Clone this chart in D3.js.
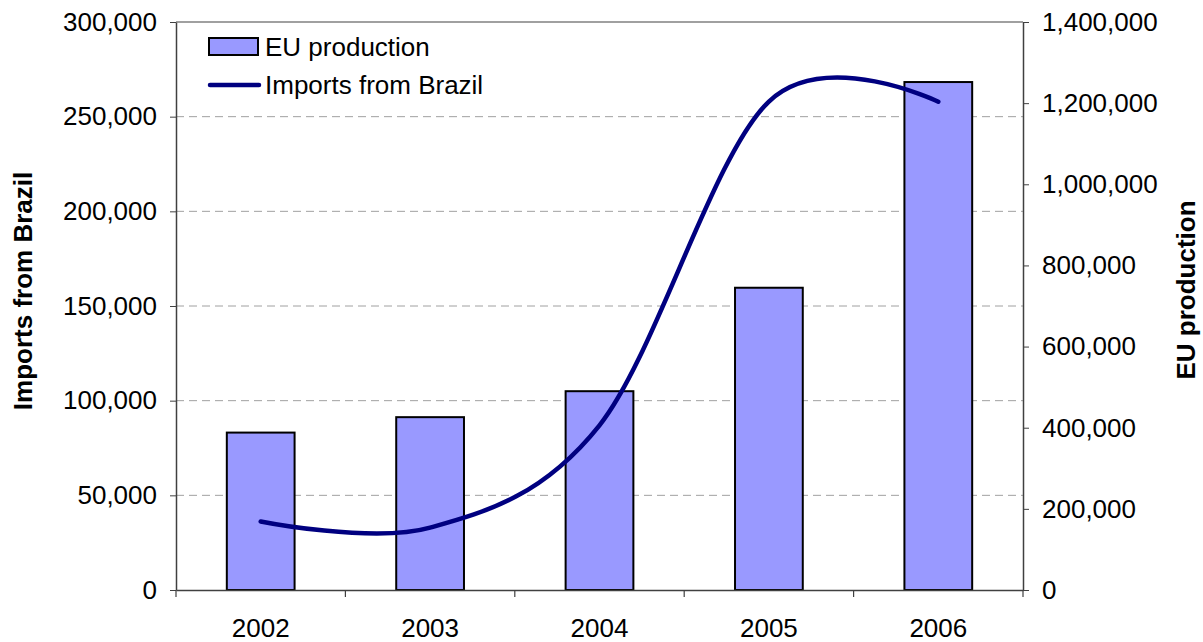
<!DOCTYPE html>
<html>
<head>
<meta charset="utf-8">
<script src="https://cdn.jsdelivr.net/npm/d3@7/dist/d3.min.js"></script>
<style>
  body { margin: 0; background: #fff; }
  svg { font-family: "Liberation Sans", Arial, sans-serif; }
  .tick text { font-size: 26px; fill: #000; }
  .title { font-size: 26px; font-weight: bold; }
  .legend text { font-size: 26px; }
</style>
</head>
<body>
<div id="chart"></div>
<script>
  const years = ["2002", "2003", "2004", "2005", "2006"];
  const euProduction = [388000, 426000, 490000, 745000, 1252000];
  const importsBrazil = [36200, 32900, 87000, 258000, 257900];
  const leftTicks = [0, 50000, 100000, 150000, 200000, 250000, 300000];
  const rightTicks = [0, 200000, 400000, 600000, 800000, 1000000, 1200000, 1400000];

  const width = 1203, height = 642;
  const margin = {top: 22, right: 180, bottom: 52, left: 176};
  const innerW = width - margin.left - margin.right;
  const innerH = height - margin.top - margin.bottom;

  const svg = d3.select("#chart").append("svg")
    .attr("width", width)
    .attr("height", height);

  const g = svg.append("g")
    .attr("transform", "translate(" + margin.left + "," + margin.top + ")");

  const x = d3.scaleBand().domain(years).range([0, innerW]).paddingInner(0.6).paddingOuter(0.3);
  const xCat = d3.scaleBand().domain(years).range([0, innerW]);
  const yLeft = d3.scaleLinear().domain([0, 300000]).range([innerH, 0]);
  const yRight = d3.scaleLinear().domain([0, 1400000]).range([innerH, 0]);
  const fmt = d3.format(",");

  // grid lines
  g.append("g")
    .selectAll("line")
    .data(leftTicks.filter(function(d) { return d > 0 && d < 300000; }))
    .join("line")
    .attr("x1", 0).attr("x2", innerW)
    .attr("y1", function(d) { return yLeft(d); })
    .attr("y2", function(d) { return yLeft(d); })
    .attr("stroke", "#a0a0a0")
    .attr("stroke-width", 1)
    .attr("stroke-dasharray", "8,5");

  // top border
  g.append("line")
    .attr("x1", 0).attr("x2", innerW)
    .attr("y1", 0).attr("y2", 0)
    .attr("stroke", "#808080")
    .attr("stroke-width", 1.5);

  // bars
  g.append("g")
    .selectAll("rect")
    .data(years)
    .join("rect")
    .attr("x", function(d) { return x(d); })
    .attr("width", x.bandwidth())
    .attr("y", function(d, i) { return yRight(euProduction[i]); })
    .attr("height", function(d, i) { return innerH - yRight(euProduction[i]); })
    .attr("fill", "#9999ff")
    .attr("stroke", "#000")
    .attr("stroke-width", 2);

  // line
  const line = d3.line()
    .x(function(d, i) { return xCat(years[i]) + xCat.bandwidth() / 2; })
    .y(function(d) { return yLeft(d); })
    .curve(d3.curveCardinal.tension(0));

  g.append("path")
    .attr("d", line(importsBrazil))
    .attr("fill", "none")
    .attr("stroke", "#000080")
    .attr("stroke-width", 4.5)
    .attr("stroke-linecap", "round");

  // axes
  const leftAxis = g.append("g")
    .call(d3.axisLeft(yLeft).tickValues(leftTicks).tickFormat(fmt).tickSizeInner(6).tickSizeOuter(0).tickPadding(13));
  const rightAxis = g.append("g")
    .attr("transform", "translate(" + innerW + ",0)")
    .call(d3.axisRight(yRight).tickValues(rightTicks).tickFormat(fmt).tickSizeInner(6).tickSizeOuter(0).tickPadding(13));
  const bottomAxis = g.append("g")
    .attr("transform", "translate(0," + innerH + ")")
    .call(d3.axisBottom(xCat).tickSize(0).tickPadding(29));

  // category boundary ticks
  g.append("g")
    .selectAll("line")
    .data(years.concat(["end"]))
    .join("line")
    .attr("x1", function(d, i) { return i * xCat.step(); })
    .attr("x2", function(d, i) { return i * xCat.step(); })
    .attr("y1", innerH).attr("y2", innerH + 7)
    .attr("stroke", "#404040")
    .attr("stroke-width", 1.2);

  [leftAxis, rightAxis, bottomAxis].forEach(function(a) {
    a.select(".domain").attr("stroke", "#404040").attr("stroke-width", 1.5);
    a.selectAll(".tick line").attr("stroke", "#404040");
    a.selectAll(".tick text").attr("font-family", "Liberation Sans, Arial, sans-serif").attr("font-size", 26);
  });

  // axis titles
  svg.append("text")
    .attr("class", "title")
    .attr("transform", "translate(32,291) rotate(-90)")
    .attr("text-anchor", "middle")
    .text("Imports from Brazil");

  svg.append("text")
    .attr("class", "title")
    .attr("transform", "translate(1195,290) rotate(-90)")
    .attr("text-anchor", "middle")
    .text("EU production");

  // legend
  const legend = svg.append("g").attr("class", "legend");
  legend.append("rect")
    .attr("x", 209).attr("y", 38)
    .attr("width", 49).attr("height", 17)
    .attr("fill", "#9999ff")
    .attr("stroke", "#000")
    .attr("stroke-width", 2);
  legend.append("text")
    .attr("x", 265).attr("y", 47)
    .attr("dy", "0.35em")
    .text("EU production");
  legend.append("line")
    .attr("x1", 210).attr("x2", 259)
    .attr("y1", 85).attr("y2", 85)
    .attr("stroke", "#000080")
    .attr("stroke-width", 4.5)
    .attr("stroke-linecap", "round");
  legend.append("text")
    .attr("x", 265).attr("y", 85)
    .attr("dy", "0.35em")
    .text("Imports from Brazil");
</script>
</body>
</html>
